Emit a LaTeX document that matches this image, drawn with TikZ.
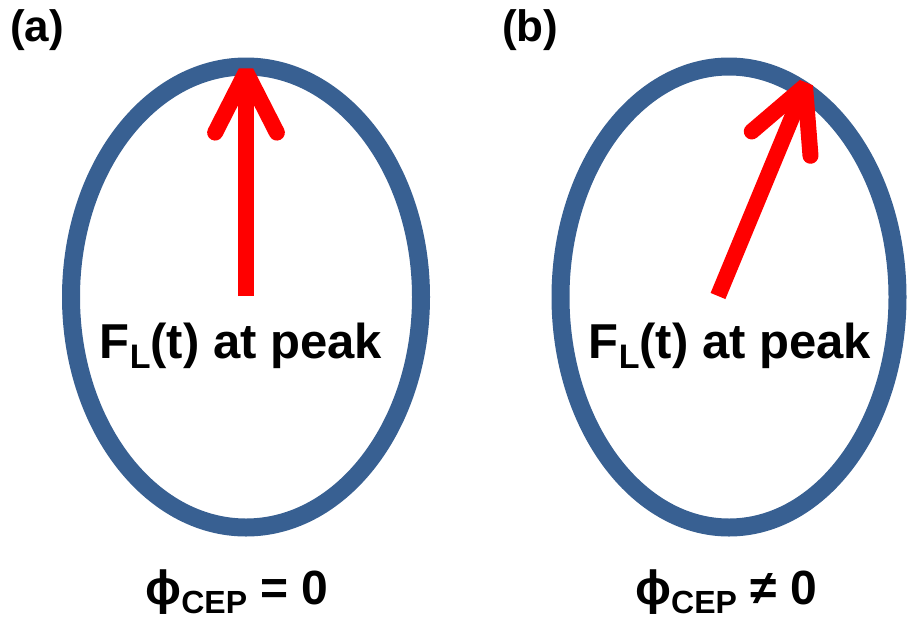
\documentclass[tikz,border=0pt]{standalone}
\usepackage{fontspec}
\setmainfont{Liberation Sans}
\usetikzlibrary{arrows.meta,positioning,calc,shapes.geometric}
\definecolor{ringblue}{RGB}{56,96,146}
\definecolor{fieldred}{RGB}{255,0,0}
\tikzset{
	ring/.style={
		ellipse,
		draw=ringblue,
		line width=18pt,
		inner sep=0pt
	},
	field/.style={
		draw=fieldred,
		line width=16pt
	},
	barb/.style={
		draw=fieldred,
		line width=16pt,
		line cap=round,
		line join=bevel
	},
	peaklabel/.style={
		anchor=base,
		inner sep=0pt,
		font=\fontsize{49}{52}\selectfont\bfseries
	},
	phaselabel/.style={
		anchor=base,
		inner sep=0pt,
		font=\fontsize{48}{52}\selectfont\bfseries
	},
	panel/.style={
		anchor=base west,
		inner sep=0pt,
		font=\fontsize{44}{48}\selectfont\bfseries
	}
}

\begin{document}
\begin{tikzpicture}[x=1pt,y=-1pt]
	\useasboundingbox (0,0) rectangle (909,624);
	
	% Ellipses
	\node[ring,minimum width=350pt,minimum height=461pt] (ringA) at (246,297) {};
	\node[ring,minimum width=337pt,minimum height=461pt] (ringB) at (729,297) {};
	
	% Field vectors
	\coordinate (tailA) at (246,296);
	\coordinate (tipA) at (246,72);
	\coordinate (tailB) at (718,296);
	\coordinate (tipB) at (805,86);
	
	\draw[field] (tailA) -- (tipA);
	\draw[barb] ($(tipA)!68pt!27:(tailA)$) -- (tipA) -- ($(tipA)!68pt!-27:(tailA)$);
	
	\draw[field] (tailB) -- (tipB);
	\draw[barb] ($(tipB)!70pt!27:(tailB)$) -- (tipB) -- ($(tipB)!70pt!-27:(tailB)$);
	
	% Labels
	\node[peaklabel] (peakA) at (241,358) {F\raisebox{-10pt}{\fontsize{34}{34}\selectfont L}(t) at peak};
	\node[peaklabel] (peakB) at (730,358) {F\raisebox{-10pt}{\fontsize{34}{34}\selectfont L}(t) at peak};
	
	\node[phaselabel] (phaseA) at (237,604) {ϕ\raisebox{-9pt}{\fontsize{32}{32}\selectfont CEP} = 0};
	\node[phaselabel] (phaseB) at (726,604) {ϕ\raisebox{-9pt}{\fontsize{32}{32}\selectfont CEP} ≠ 0};
	
	\node[panel] (panelA) at (10,41) {(a)};
	\node[panel] (panelB) at (502,41) {(b)};
	
\end{tikzpicture}
\end{document}
